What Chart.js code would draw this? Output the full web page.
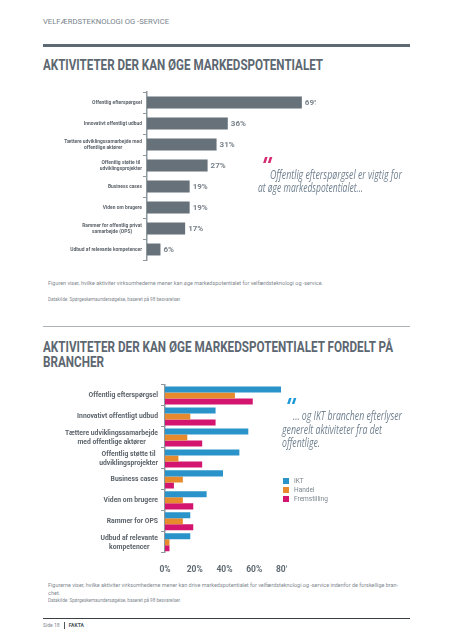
<!DOCTYPE html>
<html><head><meta charset="utf-8">
<script src="https://cdn.jsdelivr.net/npm/chart.js@4"></script>
<style>
html,body{margin:0;padding:0;background:#fff;}
#page{position:relative;width:453px;height:640px;overflow:hidden;font-family:Roboto,"Open Sans",sans-serif;}
.abs{position:absolute;white-space:nowrap;}
.fit{display:inline-block;transform-origin:0 50%;}
.rule{position:absolute;left:43px;width:367px;}
.title{font-family:Roboto,sans-serif;font-weight:bold;color:#5c6771;font-size:14.5px;line-height:14.5px;transform-origin:0 0;}
.quote{font-family:"Open Sans",sans-serif;font-style:italic;color:#708090;font-size:12px;line-height:13px;}
.qm{font-family:"DejaVu Sans",sans-serif;font-weight:bold;font-size:22px;line-height:14px;transform:skewX(-18deg);}
.note{font-size:5.6px;color:#7f888f;line-height:7px;}
.leg{font-size:6.5px;color:#7b858c;line-height:8px;}
.sw{position:absolute;width:6px;height:6px;}
</style></head>
<body><div id="page">
<div class="abs fit" data-fit="126" style="left:43px;top:18px;font-size:7.4px;color:#78838b;line-height:8px;">VELFÆRDSTEKNOLOGI OG -SERVICE</div>
<div class="rule" style="top:44px;height:2.5px;background:#5e6a73;"></div>
<div class="abs title fit" data-fit="280" style="left:43px;top:59px;">AKTIVITETER DER KAN ØGE MARKEDSPOTENTIALET</div>

<div class="abs" style="left:0;top:88px;width:316px;height:176px;overflow:hidden;"><canvas id="c1" width="340" height="176"></canvas></div>

<div class="abs qm" style="left:260px;top:159px;color:#d62a72;">"</div>
<div class="abs quote fit" data-fit="132" style="left:270px;top:168px;">Offentlig efterspørgsel er vigtig for</div>
<div class="abs quote fit" data-fit="105" style="left:258px;top:181px;">at øge markedspotentialet...</div>

<div class="abs note fit" data-fit="275" style="left:48px;top:279.5px;">Figuren viser, hvilke aktiviter virksomhederne mener kan øge markedspotentialet for velfærdsteknologi og -service.</div>
<div class="abs note fit" data-fit="133" style="left:48px;top:295.5px;font-size:5px;">Datakilde: Spørgeskemaundersøgelse, baseret på 98 besvarelser.</div>

<div class="rule" style="top:325.5px;height:1.5px;background:#aab3b9;"></div>
<div class="abs title fit" data-fit="350" style="left:43px;top:341px;">AKTIVITETER DER KAN ØGE MARKEDSPOTENTIALET FORDELT PÅ<br>BRANCHER</div>

<div class="abs" style="left:0;top:383px;width:287px;height:196px;overflow:hidden;"><canvas id="c2" width="310" height="196"></canvas></div>

<div class="abs qm" style="left:284px;top:400px;color:#1f9bd7;">"</div>
<div class="abs quote fit" data-fit="109" style="left:293px;top:408.5px;">... og IKT branchen efterlyser</div>
<div class="abs quote fit" data-fit="100" style="left:282px;top:422.5px;">generelt aktiviteter fra det</div>
<div class="abs quote fit" data-fit="38" style="left:282px;top:435.5px;">offentlige.</div>

<div id="legend"></div>

<div class="abs note fit" data-fit="350" style="left:48px;top:581.5px;">Figurerne viser, hvilke aktiviter virksomhederne mener kan drive markedspotentialet for velfærdsteknologi og -service indenfor de forskellige bran-</div>
<div class="abs note" style="left:48px;top:589.5px;">chet.</div>
<div class="abs note fit" data-fit="133" style="left:48px;top:597px;font-size:5px;">Datakilde: Spørgeskemaundersøgelse, baseret på 98 besvarelser.</div>
<div class="rule" style="top:617.5px;height:1px;background:#3a3f44;"></div>
<div class="abs" style="left:43px;top:621.5px;font-size:5px;line-height:7px;color:#7f888f;">Side 18 <span style="display:inline-block;width:0.8px;height:7px;background:#555;vertical-align:middle;margin:0 3px;"></span> <b style="color:#4a545c;">FAKTA</b></div>
</div>
<script>
// ---------- DATA ----------
const categories1 = ["Offentlig efterspørgsel", "Innovativt offentligt udbud", ["Tættere udviklingssamarbejde med","offentlige aktører"], ["Offentlig støtte til","udviklingsprojekter"], "Business cases", "Viden om brugere", ["Rammer for offentlig privat","samarbejde (OPS)"], "Udbud af relevante kompetencer"];
const values1 = [69, 36, 31, 27, 19, 19, 17, 6];

const categories2 = ["Offentlig efterspørgsel", "Innovativt offentligt udbud", ["Tættere udviklingssamarbejde","med offentlige aktører"], ["Offentlig støtte til","udviklingsprojekter"], "Business cases", "Viden om brugere", "Rammer for OPS", ["Udbud af relevante","kompetencer"]];
const seriesNames = ["IKT", "Handel", "Fremstilling"];
const ikt = [78, 34, 56, 50, 39, 28, 17, 17];
const handel = [47, 17, 15, 9, 12, 12, 12, 3];
const fremstilling = [59, 34, 25, 25, 6, 19, 19, 3];
const xTicks2 = [0, 20, 40, 60, 80];
const seriesColors = ["#2a93c9", "#e78a2e", "#d4156f"];

// ---------- fit text widths ----------
document.querySelectorAll('.fit').forEach(el => {
  const w = el.getBoundingClientRect().width;
  const t = parseFloat(el.dataset.fit);
  if (t && w) el.style.transform = 'scaleX(' + (t / w) + ')';
});

// ---------- legend ----------
const lg = document.getElementById('legend');
seriesNames.forEach((n, i) => {
  const y = 481 + i * 9.2;
  lg.insertAdjacentHTML('beforeend',
    `<div class="sw" style="left:283px;top:${y-3}px;background:${seriesColors[i]}"></div>` +
    `<div class="abs leg" style="left:294px;top:${y-4}px;">${n}</div>`);
});

Chart.defaults.font.family = 'Roboto, "Open Sans", sans-serif';
Chart.defaults.animation = false;

function labelPlugin(font, color, gap, lh) {
  return {
    id: 'ylabels',
    afterDraw(chart) {
      const ctx = chart.ctx, ys = chart.scales.y, left = chart.chartArea.left;
      ctx.save();
      ctx.font = font; ctx.fillStyle = color; ctx.textBaseline = 'middle'; ctx.textAlign = 'center';
      chart.data.labels.forEach((lab, i) => {
        const lines = Array.isArray(lab) ? lab : [lab];
        const bw = Math.max(...lines.map(l => ctx.measureText(l).width));
        const cx = left - gap - bw / 2;
        const y = ys.getPixelForTick(i);
        lines.forEach((l, j) => ctx.fillText(l, cx, y + (j - (lines.length - 1) / 2) * lh));
      });
      ctx.restore();
    }
  };
}

const valuePlugin = {
  id: 'vals',
  afterDatasetsDraw(chart) {
    const ctx = chart.ctx;
    ctx.save();
    ctx.font = 'bold 8px Roboto'; ctx.fillStyle = '#78828a'; ctx.textBaseline = 'middle'; ctx.textAlign = 'left';
    chart.getDatasetMeta(0).data.forEach((bar, i) => {
      ctx.fillText(chart.data.datasets[0].data[i] + '%', bar.x + 3, bar.y + 0.5);
    });
    ctx.restore();
  }
};

const yAxisCommon = {
  grid: { display: true, drawOnChartArea: false, drawTicks: true, tickLength: 4, color: '#8d979e', lineWidth: 1, offset: true },
  border: { display: true, color: '#8d979e', width: 1.5 },
  ticks: { display: false }
};

new Chart(document.getElementById('c1'), {
  type: 'bar',
  data: { labels: categories1, datasets: [{ data: values1, backgroundColor: '#66717a', categoryPercentage: 0.57, barPercentage: 1 }] },
  options: {
    indexAxis: 'y', responsive: false, devicePixelRatio: 1,
    layout: { padding: { left: 143, top: 4, bottom: 4, right: 0 } },
    plugins: { legend: { display: false }, tooltip: { enabled: false } },
    scales: { x: { display: false, min: 0, max: 86 }, y: yAxisCommon }
  },
  plugins: [labelPlugin('bold 4.9px Roboto', '#5b636a', 5, 6.3), valuePlugin]
});

new Chart(document.getElementById('c2'), {
  type: 'bar',
  data: {
    labels: categories2,
    datasets: [ikt, handel, fremstilling].map((d, i) => ({ label: seriesNames[i], data: d, backgroundColor: seriesColors[i], categoryPercentage: 0.86, barPercentage: 1 }))
  },
  options: {
    indexAxis: 'y', responsive: false, devicePixelRatio: 1,
    layout: { padding: { left: 161, top: 2, bottom: 0, right: 26 } },
    plugins: { legend: { display: false }, tooltip: { enabled: false } },
    scales: {
      x: { min: 0, max: 80, afterBuildTicks: s => { s.ticks = xTicks2.map(v => ({ value: v })); },
           ticks: { callback: v => v + '%', font: { weight: 'bold', size: 8.5 }, color: '#5f6a72', padding: 4, maxRotation: 0 },
           grid: { display: false }, border: { display: false } },
      y: yAxisCommon
    }
  },
  plugins: [labelPlugin('bold 6.8px Roboto', '#5b636a', 7, 9)]
});
</script>
</body></html>
